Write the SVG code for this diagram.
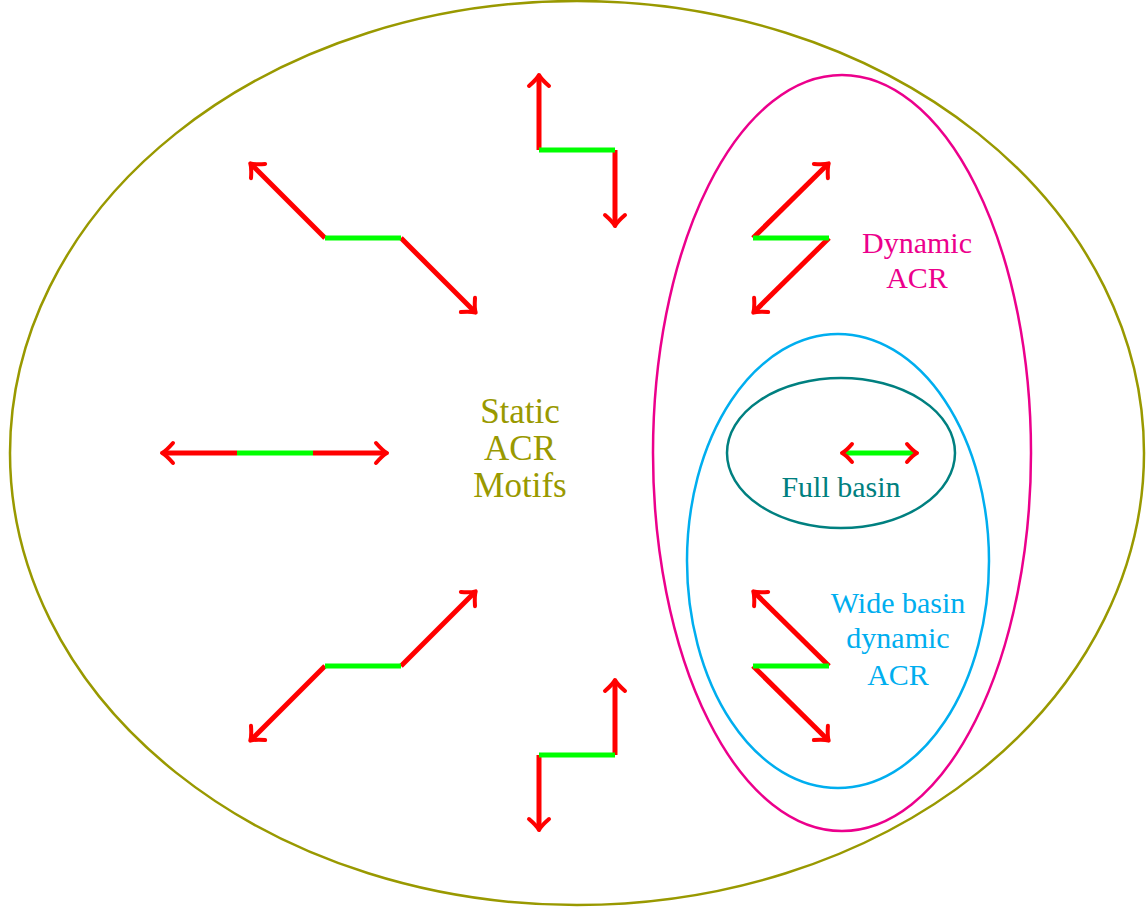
<svg xmlns="http://www.w3.org/2000/svg" width="1146" height="911" viewBox="0 0 1146 911">
<style>
.r{stroke:#ff0000;stroke-width:5;fill:none;marker-end:url(#ah)}
.g{stroke:#00ff00;stroke-width:5;fill:none}
.hd{stroke:#ff0000;stroke-width:4;fill:none;stroke-linecap:round;stroke-linejoin:round}
.t{font-family:"Liberation Serif","DejaVu Serif",serif;text-anchor:middle}
</style>
<defs>
<marker id="ah" markerUnits="userSpaceOnUse" viewBox="-14 -12 18 24" markerWidth="18" markerHeight="24" refX="0" refY="0" orient="auto" overflow="visible">
<path d="M-10,-10 Q-3,-2 1,0 Q-3,2 -10,10" stroke="#ff0000" stroke-width="4" fill="none" stroke-linecap="round" stroke-linejoin="round"/>
</marker>
</defs>
<g id="static-region">
<ellipse cx="577" cy="453" rx="567" ry="452" fill="none" stroke="#999900" stroke-width="2.5"/>
<text class="t" x="520" y="423" font-size="35" fill="#999900">Static</text>
<text class="t" x="520" y="460" font-size="35" fill="#999900">ACR</text>
<text class="t" x="520" y="497" font-size="35" fill="#999900">Motifs</text>
</g>
<g id="dynamic-region">
<ellipse cx="842" cy="453" rx="189" ry="378" fill="none" stroke="#ec008c" stroke-width="2.5"/>
<text class="t" x="917" y="253" font-size="30" fill="#ec008c">Dynamic</text>
<text class="t" x="917" y="288" font-size="30" fill="#ec008c">ACR</text>
</g>
<g id="wide-basin-region">
<ellipse cx="838" cy="561" rx="151" ry="227" fill="none" stroke="#00aeef" stroke-width="2.5"/>
<text class="t" x="898" y="613" font-size="30" fill="#00aeef">Wide basin</text>
<text class="t" x="898" y="648" font-size="30" fill="#00aeef">dynamic</text>
<text class="t" x="898" y="685" font-size="30" fill="#00aeef">ACR</text>
</g>
<g id="full-basin-region">
<ellipse cx="841" cy="453" rx="114" ry="75" fill="none" stroke="#008080" stroke-width="2.5"/>
<text class="t" x="841" y="497" font-size="30" fill="#008080">Full basin</text>
</g>
<g id="connectors">
<line class="r" x1="237" y1="453" x2="163" y2="453"/>
<line class="r" x1="313" y1="453" x2="386" y2="453"/>
<line class="g" x1="237" y1="453" x2="313" y2="453"/>
<line class="r" x1="325" y1="238" x2="251" y2="164"/>
<line class="r" x1="401" y1="238" x2="475" y2="312"/>
<line class="g" x1="325" y1="238" x2="401" y2="238"/>
<line class="r" x1="539" y1="150" x2="539" y2="76"/>
<line class="r" x1="615" y1="150" x2="615" y2="225"/>
<line class="g" x1="539" y1="150" x2="615" y2="150"/>
<line class="r" x1="325" y1="666" x2="251" y2="740"/>
<line class="r" x1="401" y1="666" x2="475" y2="592"/>
<line class="g" x1="325" y1="666" x2="401" y2="666"/>
<line class="r" x1="539" y1="755" x2="539" y2="829"/>
<line class="r" x1="615" y1="755" x2="615" y2="681"/>
<line class="g" x1="539" y1="755" x2="615" y2="755"/>
<line class="r" x1="753" y1="238" x2="828" y2="164"/>
<line class="r" x1="829" y1="238" x2="754" y2="312"/>
<line class="g" x1="753" y1="238" x2="829" y2="238"/>
<line class="r" x1="829" y1="666" x2="754" y2="592"/>
<line class="r" x1="753" y1="666" x2="828" y2="740"/>
<line class="g" x1="753" y1="666" x2="829" y2="666"/>
<line class="g" x1="843" y1="453" x2="916" y2="453"/>
<path class="hd" d="M852,444 Q846,451 842,453 Q846,455 852,462"/>
<path class="hd" d="M907,444 Q913,451 917,453 Q913,455 907,462"/>
</g>
</svg>
